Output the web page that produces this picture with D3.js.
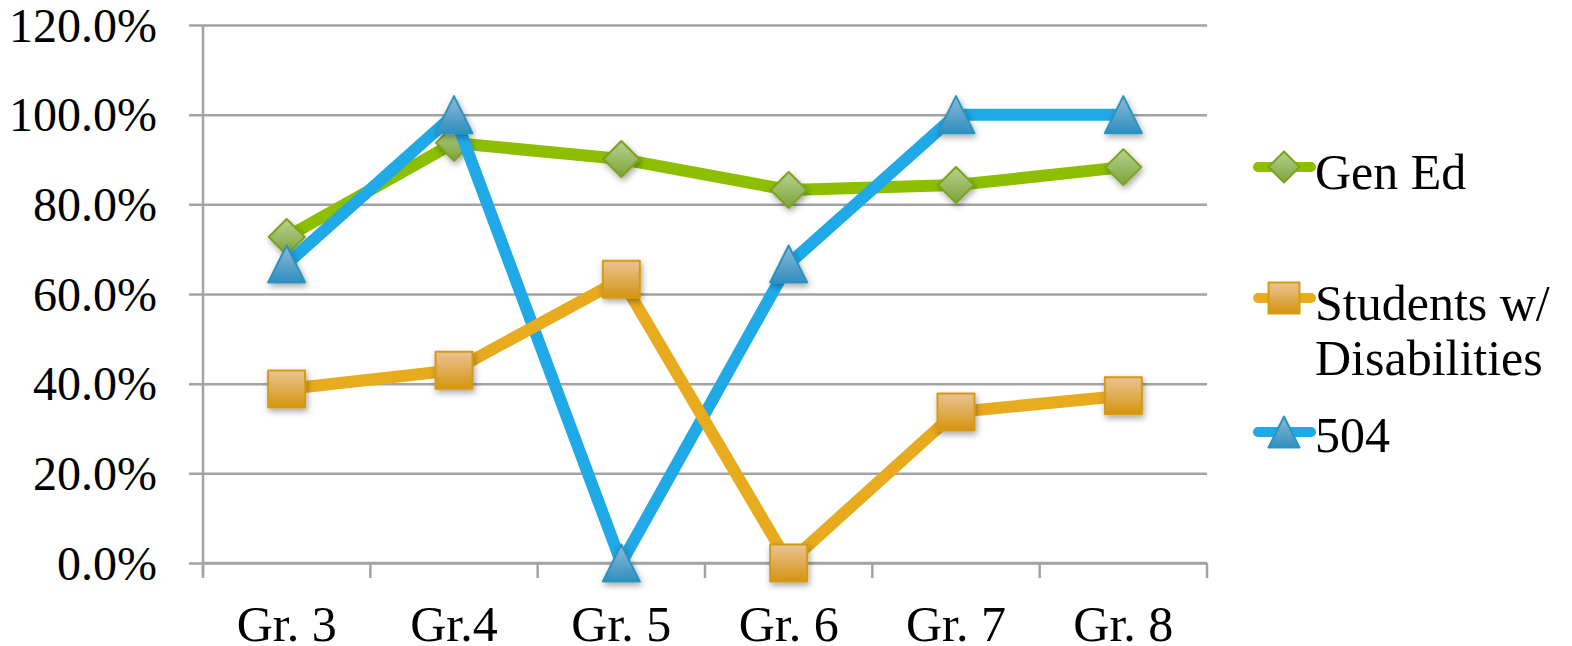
<!DOCTYPE html>
<html>
<head>
<meta charset="utf-8">
<script src="https://cdn.jsdelivr.net/npm/d3@7"></script>
<style>
  html, body { margin: 0; padding: 0; background: #fff; }
  svg { display: block; }
  text { font-family: "Liberation Serif", "Times New Roman", serif; fill: #000; }
</style>
</head>
<body>
<svg id="chart" width="1572" height="646"></svg>
<script>
const categories = ["Gr. 3", "Gr.4", "Gr. 5", "Gr. 6", "Gr. 7", "Gr. 8"];
const genEd = [0.727, 0.937, 0.901, 0.832, 0.843, 0.883];
const swd = [0.388, 0.430, 0.633, 0.0, 0.337, 0.373];
const s504 = [0.667, 1.0, 0.0, 0.667, 1.0, 1.0];
const yTicks = [0, 0.2, 0.4, 0.6, 0.8, 1.0, 1.2];

const series = [
  { name: "Gen Ed", values: genEd, line: "#8dbf00", shape: "diamond", g0: "#b5d28f", g1: "#7ea33a", stroke: "#7ba21e", legendY: 167, labels: ["Gen Ed"], labelY: 189 },
  { name: "504", values: s504, line: "#1fa9e6", shape: "triangle", g0: "#8fb9d6", g1: "#2f8fbf", stroke: "#2a93c2", legendY: 432, labels: ["504"], labelY: 452 },
  { name: "Students w/ Disabilities", values: swd, line: "#e8ab1e", shape: "square", g0: "#ebc394", g1: "#d4950f", stroke: "#d39a12", legendY: 298, labels: ["Students w/", "Disabilities"], labelY: 320 }
];

const svg = d3.select("#chart");
const pLeft = 203, pRight = 1207, pTop = 25, pBottom = 563;

const x = d3.scaleBand().domain(categories).range([pLeft, pRight]);
const y = d3.scaleLinear().domain([0, 1.2]).range([pBottom, pTop]);

const defs = svg.append("defs");
const f = defs.append("filter").attr("id", "shadow").attr("x", "-50%").attr("y", "-50%").attr("width", "200%").attr("height", "200%");
f.append("feDropShadow").attr("dx", 1.5).attr("dy", 3).attr("stdDeviation", 3).attr("flood-color", "#000").attr("flood-opacity", 0.35);
series.forEach((s, i) => {
  const g = defs.append("linearGradient").attr("id", "grad" + i).attr("x1", 0).attr("y1", 0).attr("x2", 0).attr("y2", 1);
  g.append("stop").attr("offset", "0%").attr("stop-color", s.g0);
  g.append("stop").attr("offset", "100%").attr("stop-color", s.g1);
  s.grad = "url(#grad" + i + ")";
});

const fontStack = '"Liberation Serif", "Times New Roman", serif';

// gridlines
const yAxis = d3.axisLeft(y).tickValues(yTicks).tickSize(-(pRight - pLeft)).tickPadding(46)
  .tickFormat(d => (d * 100).toFixed(1) + "%");
const ga = svg.append("g").attr("transform", `translate(${pLeft},0)`).call(yAxis);
ga.select(".domain").remove();
ga.selectAll(".tick line").attr("x1", -14).attr("stroke", "#a3a3a3").attr("stroke-width", 2.5);
ga.selectAll(".tick text").attr("font-size", 48).attr("dy", "0.34em")
  .style("font-family", fontStack).attr("fill", "#000");

// y axis line
svg.append("line").attr("x1", pLeft).attr("x2", pLeft).attr("y1", pTop).attr("y2", pBottom + 12)
  .attr("stroke", "#a3a3a3").attr("stroke-width", 2.5);

// x axis
const xAxis = d3.axisBottom(x).tickSize(0).tickPadding(0);
const gx = svg.append("g").attr("transform", `translate(0,${pBottom})`).call(xAxis);
gx.select(".domain").remove();
gx.selectAll(".tick text").attr("font-size", 50).attr("y", 78).attr("dy", 0)
  .style("font-family", fontStack).attr("fill", "#000");
const bounds = categories.map(c => x(c)).concat([pRight]);
svg.append("g").selectAll("line").data(bounds).join("line")
  .attr("x1", d => d).attr("x2", d => d).attr("y1", pBottom).attr("y2", pBottom + 15)
  .attr("stroke", "#a3a3a3").attr("stroke-width", 2.5);
svg.append("line").attr("x1", pLeft).attr("x2", pRight).attr("y1", pBottom).attr("y2", pBottom)
  .attr("stroke", "#a3a3a3").attr("stroke-width", 2.5);

const cx = c => x(c) + x.bandwidth() / 2;
const line = d3.line().x(d => cx(d.c)).y(d => y(d.v));

function marker(sel, s, size) {
  const h = size / 2;
  let p;
  if (s.shape === "diamond") p = `M0,${-h}L${h},0L0,${h}L${-h},0Z`;
  else if (s.shape === "square") p = `M${-h},${-h}H${h}V${h}H${-h}Z`;
  else p = `M0,${-h}L${h},${h}L${-h},${h}Z`;
  sel.append("path").attr("d", p).attr("fill", s.grad).attr("stroke", s.stroke).attr("stroke-width", 2)
    .attr("stroke-linejoin", "round");
}

// lines
series.forEach(s => {
  const data = categories.map((c, i) => ({ c, v: s.values[i] }));
  svg.append("path").datum(data).attr("d", line).attr("fill", "none")
    .attr("stroke", s.line).attr("stroke-width", 12).attr("stroke-linejoin", "round");
  svg.append("g").selectAll("g").data(data).join("g")
    .attr("transform", d => `translate(${cx(d.c)},${y(d.v)})`)
    .attr("filter", "url(#shadow)")
    .each(function () { marker(d3.select(this), s, s.shape === "diamond" ? 36 : 37); });
});

// legend
series.forEach(s => {
  const g = svg.append("g");
  g.append("line").attr("x1", 1258).attr("x2", 1311).attr("y1", s.legendY).attr("y2", s.legendY)
    .attr("stroke", s.line).attr("stroke-width", 10).attr("stroke-linecap", "round");
  const m = g.append("g").attr("transform", `translate(1284,${s.legendY})`);
  marker(m, s, 31);
  s.labels.forEach((t, i) => {
    g.append("text").attr("x", 1315).attr("y", s.labelY + i * 55).attr("font-size", 50)
      .style("font-family", fontStack).text(t);
  });
});
</script>
</body>
</html>
